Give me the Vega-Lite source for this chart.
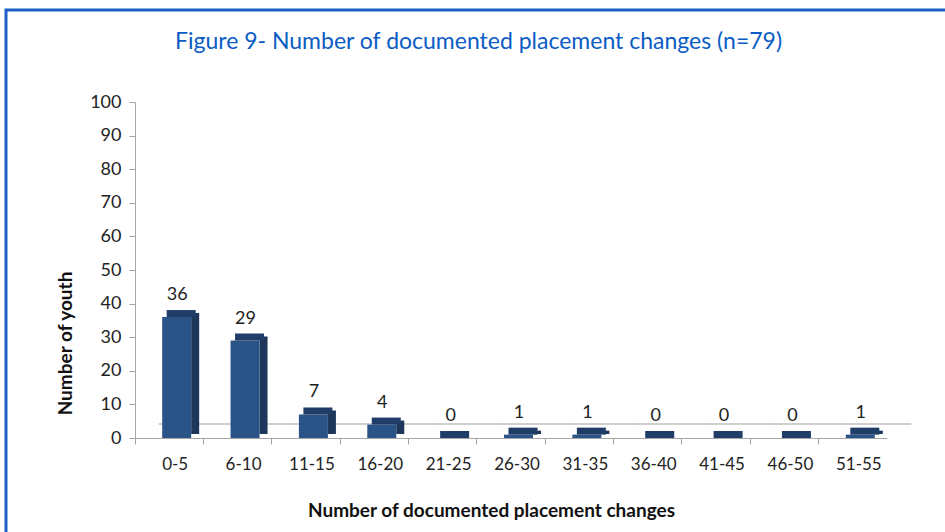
{
  "$schema": "https://vega.github.io/schema/vega-lite/v6.json",
  "autosize": "none",
  "width": 945,
  "height": 530,
  "padding": {"left": 6, "top": 10, "right": 0, "bottom": 0},
  "background": "white",
  "title": {
    "text": "Figure 9- Number of documented placement changes (n=79)",
    "font": "Lato",
    "fontSize": 23,
    "fontWeight": "normal",
    "color": "#0B5CC4",
    "anchor": "middle",
    "orient": "top",
    "offset": 0,
    "baseline": "middle",
    "dy": 55
  },
  "config": {
    "view": {"stroke": "#1B5EC6", "strokeWidth": 3, "fill": null},
    "font": "Lato"
  },
  "data": {
    "values": [
      {"cat": "0-5", "n": 36},
      {"cat": "6-10", "n": 29},
      {"cat": "11-15", "n": 7},
      {"cat": "16-20", "n": 4},
      {"cat": "21-25", "n": 0},
      {"cat": "26-30", "n": 1},
      {"cat": "31-35", "n": 1},
      {"cat": "36-40", "n": 0},
      {"cat": "41-45", "n": 0},
      {"cat": "46-50", "n": 0},
      {"cat": "51-55", "n": 1}
    ]
  },
  "encoding": {
    "x": {
      "field": "cat",
      "type": "nominal",
      "sort": null,
      "scale": {"type": "band", "range": [129, 881], "paddingInner": 0, "paddingOuter": 0},
      "axis": {
        "orient": "bottom",
        "offset": -102,
        "bandPosition": 0,
        "labelOffset": 6,
        "labelAngle": 0,
        "labelFontSize": 17,
        "labelColor": "#222222",
        "labelPadding": 12,
        "tickSize": 6,
        "tickColor": "#A6A6A6",
        "domainColor": "#A6A6A6",
        "grid": false,
        "title": "Number of documented placement changes",
        "titleFontSize": 19,
        "titleFontWeight": "bold",
        "titleColor": "#111111",
        "titleX": 485,
        "titleY": 72,
        "titleBaseline": "middle"
      }
    },
    "y": {
      "field": "n",
      "type": "quantitative",
      "scale": {"domain": [0, 100], "range": [428, 92], "nice": false},
      "axis": {
        "orient": "left",
        "offset": -129,
        "values": [0, 10, 20, 30, 40, 50, 60, 70, 80, 90, 100],
        "labelFontSize": 18,
        "labelColor": "#222222",
        "labelPadding": 8,
        "tickSize": 6,
        "tickColor": "#A6A6A6",
        "domainColor": "#A6A6A6",
        "grid": false,
        "title": "Number of youth",
        "titleFontSize": 19,
        "titleFontWeight": "bold",
        "titleColor": "#111111",
        "titleAngle": -90,
        "titleX": -70,
        "titleY": 333,
        "titleAlign": "center",
        "titleBaseline": "middle"
      }
    }
  },
  "layer": [
    {
      "mark": {"type": "tick", "orient": "horizontal", "size": 69, "thickness": 1.5, "opacity": 1, "color": "#BFBFBF", "xOffset": 24, "yOffset": -14},
      "encoding": {"y": {"datum": 0}}
    },
    {
      "mark": {"type": "bar", "width": 8, "xOffset": 26, "yOffset": -4, "color": "#1C3759"}
    },
    {
      "mark": {"type": "bar", "width": 29, "xOffset": 7.5, "color": "#2A5488"}
    },
    {
      "mark": {"type": "tick", "orient": "horizontal", "size": 29, "thickness": 7, "opacity": 1, "xOffset": 12, "yOffset": -3.5, "color": "#1F3D66"}
    },
    {
      "mark": {"type": "text", "baseline": "bottom", "dy": -13, "dx": 8, "fontSize": 18, "color": "#222222"},
      "encoding": {"text": {"field": "n", "type": "quantitative"}}
    }
  ]
}
